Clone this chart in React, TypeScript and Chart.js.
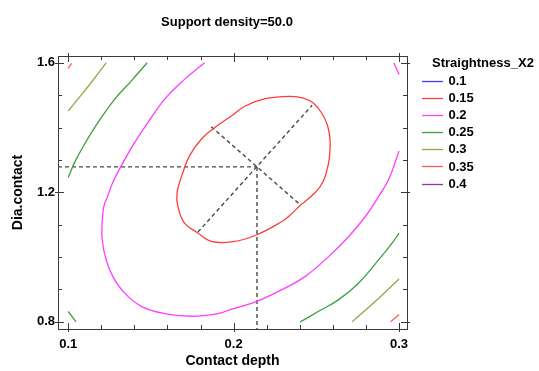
import { useEffect, useRef } from "react";
import { Chart, registerables } from "chart.js";

Chart.register(...registerables);

const chartTitle = "Support density=50.0";
const xAxisTitle = "Contact depth";
const yAxisTitle = "Dia.contact";
const legendTitle = "Straightness_X2";

const levelLabels = ["0.1", "0.15", "0.2", "0.25", "0.3", "0.35", "0.4"];
const levelColors = ["#3c3cff", "#ff3c3c", "#ff3cff", "#3c9e3c", "#a0a046", "#ff5a5a", "#9a329a"];

const xRange = [0.0938, 0.3048];
const yRange = [0.778, 1.621];
const xTickLabels = [0.1, 0.2, 0.3];
const yTickLabels = [0.8, 1.2, 1.6];
const xMinorTicks = [0.1, 0.12, 0.14, 0.16, 0.18, 0.2, 0.22, 0.24, 0.26, 0.28, 0.3];
const yMinorTicks = [0.8, 0.9, 1.0, 1.1, 1.2, 1.3, 1.4, 1.5, 1.6];

// contour 0.15 (closed ellipse)
const contour015 = [
  [0.2404, 1.1609], [0.234, 1.1291], [0.2292, 1.11], [0.2141, 1.069], [0.1995, 1.0475],
  [0.1864, 1.0484], [0.1784, 1.0743], [0.1703, 1.1051], [0.1663, 1.1562], [0.1658, 1.1985],
  [0.1693, 1.261], [0.1733, 1.3125], [0.1804, 1.3639], [0.1885, 1.3997], [0.1995, 1.4388],
  [0.207, 1.4666], [0.2191, 1.4891], [0.234, 1.4965], [0.2421, 1.4912], [0.2481, 1.4758],
  [0.2532, 1.445], [0.2566, 1.4089], [0.2582, 1.368], [0.2582, 1.327], [0.2572, 1.2857],
  [0.2542, 1.2345], [0.2492, 1.1985], [0.2404, 1.1609],
];

// contour 0.2
const contour02Main = [
  [0.1824, 1.6], [0.1703, 1.5488], [0.1582, 1.4872], [0.1481, 1.4151], [0.1401, 1.3535],
  [0.132, 1.2817], [0.1269, 1.2302], [0.1239, 1.1892], [0.1215, 1.1562], [0.1205, 1.1051],
  [0.1205, 1.0536], [0.1229, 0.992], [0.1269, 0.9405], [0.134, 0.8894], [0.1441, 0.8481],
  [0.1582, 0.8256], [0.1743, 0.8173], [0.1905, 0.8256], [0.1989, 0.8394], [0.2141, 0.8635],
  [0.2292, 0.8995], [0.2433, 0.9405], [0.2575, 1.0022], [0.2696, 1.0638], [0.2796, 1.1254],
  [0.2877, 1.1877], [0.2938, 1.2407], [0.3, 1.3279],
];
const contour02Corner = [[0.2968, 1.6], [0.3, 1.5643]];

// contour 0.25
const contour025TopLeft = [
  [0.1477, 1.6], [0.138, 1.5436], [0.128, 1.4872], [0.1179, 1.4151], [0.1098, 1.3485],
  [0.1038, 1.2918], [0.1, 1.2456],
];
const contour025BottomLeft = [[0.1, 0.832], [0.1047, 0.8]];
const contour025BottomRight = [
  [0.2403, 0.8], [0.2514, 0.8327], [0.2635, 0.8687], [0.2756, 0.9202], [0.2877, 0.992],
  [0.2958, 1.0435], [0.3, 1.0743],
];

// contour 0.3
const contour03TopLeft = [[0.1229, 1.6], [0.1138, 1.5384], [0.1057, 1.4872], [0.1, 1.4512]];
const contour03BottomRight = [[0.2716, 0.8], [0.2857, 0.8635], [0.3, 0.9325]];

// contour 0.35
const contour035TopLeft = [[0.1, 1.583], [0.102, 1.598]];
const contour035BottomRight = [[0.2948, 0.8], [0.3, 0.8225]];

// optimum and principal axes
const optimum = [0.2141, 1.2786];
const majorAxis = [[0.1784, 1.0773], [0.2474, 1.4687]];
const minorAxis = [[0.1864, 1.4028], [0.2403, 1.1615]];

const FONT = "'Liberation Sans', Arial, sans-serif";

const toPts = (arr: number[][]) => arr.map(([x, y]) => ({ x, y }));

export default function App() {
  const ref = useRef<HTMLCanvasElement | null>(null);

  useEffect(() => {
    if (!ref.current) return;
    const segments: [number, number[][]][] = [
      [1, contour015],
      [2, contour02Main],
      [2, contour02Corner],
      [3, contour025TopLeft],
      [3, contour025BottomLeft],
      [3, contour025BottomRight],
      [4, contour03TopLeft],
      [4, contour03BottomRight],
      [5, contour035TopLeft],
      [5, contour035BottomRight],
    ];
    const contourSets = segments.map(([lvl, pts]) => ({
      label: levelLabels[lvl],
      data: toPts(pts),
      showLine: true,
      borderColor: levelColors[lvl],
      borderWidth: 1.3,
      pointRadius: 0,
      tension: 0.4,
      fill: false,
    }));
    const dashStyle = {
      showLine: true,
      borderColor: "#4a4a4a",
      borderWidth: 1.4,
      borderDash: [4, 3],
      pointRadius: 0,
      tension: 0,
      fill: false,
    };
    const guideSets = [
      { label: "h", data: toPts([[xRange[0], optimum[1]], optimum]), ...dashStyle },
      { label: "v", data: toPts([optimum, [optimum[0], yRange[0]]]), ...dashStyle },
      { label: "major", data: toPts(majorAxis), ...dashStyle },
      { label: "minor", data: toPts(minorAxis), ...dashStyle },
    ];

    const framePlugin = {
      id: "frameTicks",
      afterDraw(chart: any) {
        const ctx = chart.ctx;
        const { left, right, top, bottom } = chart.chartArea;
        const xs = chart.scales.x;
        const ys = chart.scales.y;
        ctx.save();
        ctx.strokeStyle = "#3a3a3a";
        ctx.lineWidth = 1;
        ctx.strokeRect(Math.round(left) + 0.5, Math.round(top) + 0.5, Math.round(right - left), Math.round(bottom - top));
        ctx.beginPath();
        xMinorTicks.forEach((v) => {
          const px = Math.round(xs.getPixelForValue(v)) + 0.5;
          const major = xTickLabels.some((t) => Math.abs(t - v) < 1e-9);
          const inn = major ? 6 : 4;
          const out = major ? 3 : 0;
          ctx.moveTo(px, bottom + out);
          ctx.lineTo(px, bottom - inn);
          ctx.moveTo(px, top - out);
          ctx.lineTo(px, top + inn);
        });
        yMinorTicks.forEach((v) => {
          const py = Math.round(ys.getPixelForValue(v)) + 0.5;
          const major = yTickLabels.some((t) => Math.abs(t - v) < 1e-9);
          const inn = major ? 6 : 4;
          const out = major ? 3 : 0;
          ctx.moveTo(left - out, py);
          ctx.lineTo(left + inn, py);
          ctx.moveTo(right + out, py);
          ctx.lineTo(right - inn, py);
        });
        ctx.stroke();

        // title
        ctx.fillStyle = "#000";
        ctx.font = `bold 13px ${FONT}`;
        ctx.textAlign = "center";
        ctx.textBaseline = "alphabetic";
        ctx.fillText(chartTitle, 227, 26);

        // legend
        ctx.textAlign = "left";
        ctx.textBaseline = "middle";
        ctx.fillText(legendTitle, 432, 63);
        levelLabels.forEach((lab, i) => {
          const y = 80.7 + i * 17.15;
          ctx.strokeStyle = levelColors[i];
          ctx.lineWidth = 1.3;
          ctx.beginPath();
          ctx.moveTo(422, Math.round(y) + 0.5);
          ctx.lineTo(443, Math.round(y) + 0.5);
          ctx.stroke();
          ctx.fillText(lab, 448.5, y + 0.5);
        });
        ctx.restore();
      },
    };

    const tickFont = { family: FONT, size: 13, weight: "bold" as const };
    const titleFont = { family: FONT, size: 14, weight: "bold" as const };

    const chart = new Chart(ref.current, {
      type: "scatter",
      data: { datasets: [...contourSets, ...guideSets] as any },
      options: {
        animation: false,
        responsive: true,
        maintainAspectRatio: false,
        events: [],
        layout: { padding: { top: 56, right: 132, left: 0, bottom: 0 } },
        plugins: { legend: { display: false }, tooltip: { enabled: false }, title: { display: false } },
        scales: {
          x: {
            type: "linear",
            min: xRange[0],
            max: xRange[1],
            grid: { display: false, drawTicks: false },
            border: { display: false },
            ticks: {
              font: tickFont,
              color: "#000",
              padding: 8,
              maxRotation: 0,
              callback: (v: any) => Number(v).toFixed(1),
            },
            afterBuildTicks: (s: any) => {
              s.ticks = xTickLabels.map((v) => ({ value: v }));
            },
            afterFit: (s: any) => {
              s.height = 42;
            },
            title: { display: true, text: xAxisTitle, font: titleFont, color: "#000", padding: { top: 0, bottom: 1 } },
          },
          y: {
            type: "linear",
            min: yRange[0],
            max: yRange[1],
            grid: { display: false, drawTicks: false },
            border: { display: false },
            ticks: {
              font: tickFont,
              color: "#000",
              padding: 3,
              callback: (v: any) => Number(v).toFixed(1),
            },
            afterBuildTicks: (s: any) => {
              s.ticks = yTickLabels.map((v) => ({ value: v }));
            },
            afterFit: (s: any) => {
              s.width = 58;
            },
            title: { display: true, text: yAxisTitle, font: titleFont, color: "#000", padding: { top: 9.6, bottom: 0 } },
          },
        },
      },
      plugins: [framePlugin],
    });
    return () => chart.destroy();
  }, []);

  return (
    <div style={{ position: "fixed", left: 0, top: 0, width: 539, height: 371, background: "#fff" }}>
      <canvas ref={ref} />
    </div>
  );
}
